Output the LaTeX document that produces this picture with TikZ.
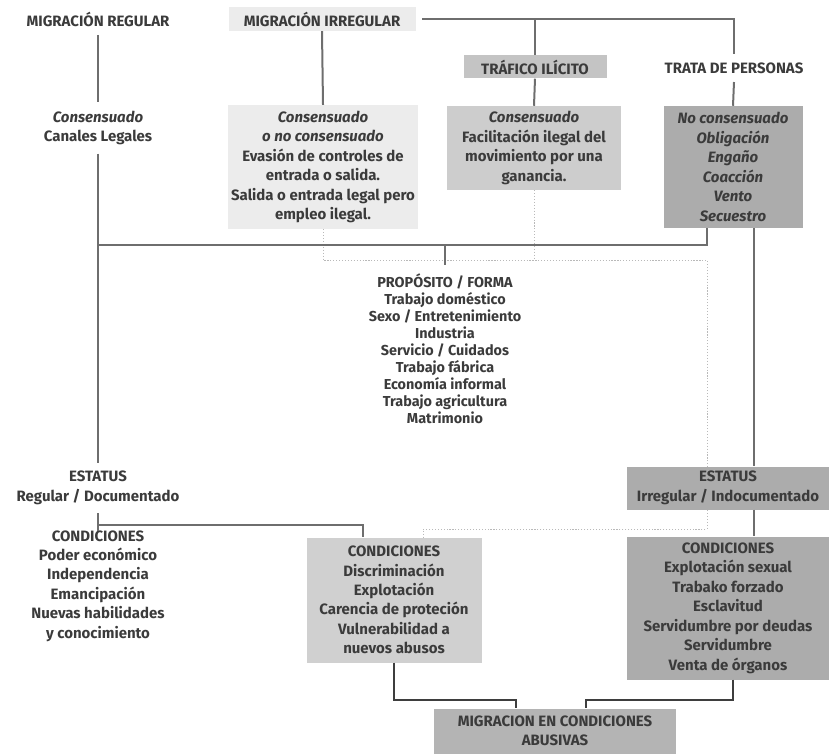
\documentclass[tikz,border=0pt]{standalone}
\usepackage{fontspec}
\setmainfont{Fira Sans}
\usepackage{tikz}
\usetikzlibrary{backgrounds}

\definecolor{tinta}{HTML}{3B3B3B}
\definecolor{linea}{HTML}{6E6E6E}
\definecolor{lineaosc}{HTML}{3E3E3E}
\definecolor{grisA}{HTML}{ECECEC}
\definecolor{grisB}{HTML}{C4C4C4}
\definecolor{grisC}{HTML}{ACACAC}
\definecolor{grisD}{HTML}{D0D0D0}
\definecolor{grisE}{HTML}{B4B4B4}
\newcommand\pxu{0.3mm}

\tikzset{
  caja/.style={fill=#1, align=center, inner sep=0pt, text=tinta, font=\bfseries\fontsize{12.8}{16.6}\selectfont},
  rotulo/.style={align=center, inner sep=2.5mm, text=tinta, font=\bfseries\fontsize{12.8}{16.6}\selectfont},
  union/.style={draw=linea, line width=0.6mm},
  punteo/.style={draw=gray!55, line width=0.5pt, dash pattern=on 1pt off 1.5pt},
}

\begin{document}
\begin{tikzpicture}[x=\pxu,y=-\pxu]
			\useasboundingbox (0,0) rectangle (829,754);
			% fila superior
			\node[rotulo] (mreg) at (98,19) {MIGRACIÓN REGULAR};
			\node[caja=grisA, minimum width=187*\pxu, minimum height=24*\pxu] (mirr) at (322,19) {MIGRACIÓN IRREGULAR};
			\node[caja=grisB, minimum width=143*\pxu, minimum height=23*\pxu] (traf) at (535,67) {TRÁFICO ILÍCITO};
			\node[rotulo] (trata) at (734,68) {TRATA DE PERSONAS};
			% detalles
			\node[rotulo] (regdet) at (98,128) {\textit{Consensuado}\\Canales Legales};
			\node[caja=grisA, minimum width=190*\pxu, minimum height=124*\pxu] (irrdet) at (323,167) {\textit{Consensuado}\\\textit{o no consensuado}\\Evasión de controles de\\entrada o salida.\\Salida o entrada legal pero\\empleo ilegal.};
			\node[caja=grisB!85!white, minimum width=174*\pxu, minimum height=84*\pxu] (trafdet) at (534,148) {\textit{Consensuado}\\Facilitación ilegal del\\movimiento por una\\ganancia.};
			\node[caja=grisC, minimum width=139*\pxu, minimum height=122*\pxu] (tratadet) at (733,167) {\textit{No consensuado}\\\textit{Obligación}\\\textit{Engaño}\\\textit{Coacción}\\\textit{Vento}\\\textit{Secuestro}};
			\node[rotulo, font=\bfseries\fontsize{12.3}{14.5}\selectfont] (prop) at (445,349) {PROPÓSITO / FORMA\\Trabajo doméstico\\Sexo / Entretenimiento\\Industria\\Servicio / Cuidados\\Trabajo fábrica\\Economía informal\\Trabajo agricultura\\Matrimonio};
			% estatus y condiciones
			\node[rotulo] (estreg) at (98,488) {ESTATUS\\Regular / Documentado};
			\node[rotulo] (condreg) at (98,586) {CONDICIONES\\Poder económico\\Independencia\\Emancipación\\Nuevas habilidades\\y conocimiento};
			\node[caja=grisD, minimum width=175*\pxu, minimum height=125*\pxu] (condmid) at (394,600) {CONDICIONES\\Discriminación\\Explotación\\Carencia de proteción\\Vulnerabilidad a\\nuevos abusos};
			\node[caja=grisC, minimum width=202*\pxu, minimum height=43*\pxu] (estirr) at (728,488) {ESTATUS\\Irregular / Indocumentado};
			\node[caja=grisC, minimum width=202*\pxu, minimum height=143*\pxu] (condirr) at (728,608) {CONDICIONES\\Explotación sexual\\Trabako forzado\\Esclavitud\\Servidumbre por deudas\\Servidumbre\\Venta de órganos};
			\node[caja=grisE, minimum width=242*\pxu, minimum height=45*\pxu] (abus) at (555,731) {MIGRACION EN CONDICIONES\\ABUSIVAS};
			% puntos de paso
			\coordinate (nA) at (707,245);
			\coordinate (eje) at (754,0);
			\coordinate (bif) at (98,525);
			\coordinate (bifB) at (98,531);
			\coordinate (ramal) at (363,0);
			\coordinate (abI) at (516,700);
			\coordinate (abD) at (586,700);
			\coordinate (bR) at (733,700);
			\coordinate (pA) at (707,260);
			\coordinate (pB) at (707,529);
			\coordinate (pC) at (423,529);
			% lineas
			\begin{scope}[on background layer]
			\draw[punteo] (irrdet.south) -- (irrdet.south |- pA) -- (pA) -- (pB) -- (pC) -- (condmid.north -| pC);
			\draw[punteo] (trafdet.south) -- (trafdet.south |- pA);
			\end{scope}
			\draw[union] (mreg.south -| regdet) -- (regdet.north);
			\draw[union] (regdet.south) -- (estreg.north);
			\draw[union] (mirr.south) -- (irrdet.north);
			\draw[union, shorten <=2mm] (mirr.east) -- (mirr.east -| trata) -- (trata.north);
			\draw[union] (traf.north |- mirr.east) -- (traf.north);
			\draw[union] (traf.south) -- (trafdet.north);
			\draw[union] (trata.south) -- (tratadet.north);
			\draw[union] (tratadet.south -| nA) -- (nA) -- (nA -| regdet);
			\draw[union] (prop.north |- nA) -- (prop.north);
			\draw[union] (tratadet.south -| eje) -- (estirr.north -| eje);
			\draw[union] (estirr.south -| eje) -- (condirr.north -| eje);
			\draw[union] (estreg.south) -- (bifB);
			\draw[union] (bif) -- (bif -| ramal) -- (condmid.north -| ramal);
			\draw[union, draw=lineaosc] (condmid.south) -- (condmid.south |- abI) -- (abI) -- (abus.north -| abI);
			\draw[union, draw=lineaosc] (condirr.south -| bR) -- (bR) -- (abD) -- (abus.north -| abD);
		    \end{tikzpicture}
\end{document}
